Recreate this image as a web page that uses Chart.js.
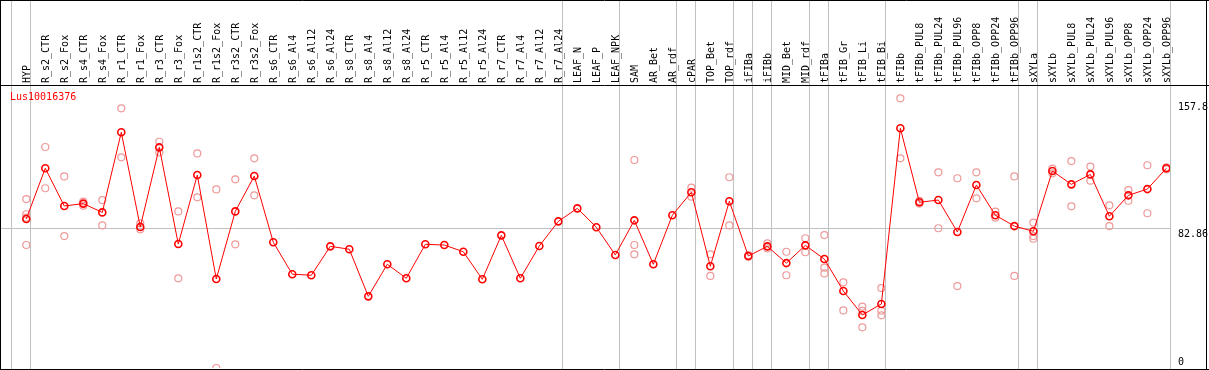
<!DOCTYPE html>
<html>
<head>
<meta charset="utf-8">
<title>Lus10016376</title>
<script src="https://cdn.jsdelivr.net/npm/chart.js@4.4.1/dist/chart.umd.min.js"></script>
<style>
  html, body { margin: 0; padding: 0; background: #fff; }
  #wrap { width: 1209px; height: 370px; }
</style>
</head>
<body>
<div id="wrap"><canvas id="chart"></canvas></div>
<script>
const geneName = 'Lus10016376';

const categories = [
    'HYP', 'R_s2_CTR', 'R_s2_Fox', 'R_s4_CTR', 'R_s4_Fox', 'R_r1_CTR', 'R_r1_Fox', 'R_r3_CTR', 'R_r3_Fox',
    'R_r1s2_CTR', 'R_r1s2_Fox', 'R_r3s2_CTR', 'R_r3s2_Fox', 'R_s6_CTR', 'R_s6_Al4', 'R_s6_Al12', 'R_s6_Al24',
    'R_s8_CTR', 'R_s8_Al4', 'R_s8_Al12', 'R_s8_Al24', 'R_r5_CTR', 'R_r5_Al4', 'R_r5_Al12', 'R_r5_Al24',
    'R_r7_CTR', 'R_r7_Al4', 'R_r7_Al12', 'R_r7_Al24', 'LEAF_N', 'LEAF_P', 'LEAF_NPK', 'SAM', 'AR_Bet', 'AR_rdf',
    'cPAR', 'TOP_Bet', 'TOP_rdf', 'iFIBa', 'iFIBb', 'MID_Bet', 'MID_rdf', 'tFIBa', 'tFIB_Gr', 'tFIB_Li', 'tFIB_Bi',
    'tFIBb', 'tFIBb_PUL8', 'tFIBb_PUL24', 'tFIBb_PUL96', 'tFIBb_OPP8', 'tFIBb_OPP24', 'tFIBb_OPP96',
    'sXYLa', 'sXYLb', 'sXYLb_PUL8', 'sXYLb_PUL24', 'sXYLb_PUL96', 'sXYLb_OPP8', 'sXYLb_OPP24', 'sXYLb_OPP96'
];

// average expression per sample (red line)
const meanValues = [
    88.2, 118.2, 95.9, 97.3, 92.1, 139.5, 83.5, 130.6, 73.4,
    114.2, 52.7, 92.7, 113.6, 74.4, 55.5, 54.9, 72.0,
    70.3, 42.4, 61.4, 53.1, 73.2, 72.8, 68.8, 52.5,
    78.5, 53.1, 72.2, 86.8, 94.5, 83.3, 66.9, 87.4, 61.4, 90.4,
    104.0, 60.2, 98.7, 66.3, 72.0, 62.1, 72.6, 64.5, 45.6, 31.4, 37.9,
    141.9, 98.1, 99.4, 80.5, 108.3, 90.4, 84.0,
    80.9, 116.6, 108.7, 114.6, 89.8, 102.2, 105.9, 118.2
];

// single replicates (pink circles), one list per sample
const replicateValues = [
    [100.0, 91.0, 89.0, 72.8], [130.8, 106.4], [113.4, 78.1], [98.5, 96.1], [99.4, 84.4],
    [153.7, 124.7], [85.6, 82.1], [133.9, 127.6], [92.7, 53.1],
    [127.0, 101.0], [105.7, 0], [111.7, 73.2], [124.1, 102.2], [], [], [], [],
    [], [], [], [], [], [], [], [],
    [], [], [], [], [], [], [], [123.1, 72.8, 67.3], [], [],
    [106.7, 101.4], [67.3, 54.5], [112.9, 84.4], [66.8, 65.8], [73.8, 70.8], [68.8, 54.9], [76.8, 68.5],
    [78.7, 59.4, 56.0], [50.7, 34.1], [36.3, 33.8, 24.1], [47.3, 33.9, 31.2],
    [159.6, 124.1], [98.9, 97.3], [115.8, 82.7], [112.3, 48.5], [115.8, 100.4], [92.5, 89.0], [113.4, 54.5],
    [86.0, 78.1, 76.5], [118.0, 115.2], [122.5, 95.7], [119.2, 110.9], [96.3, 84.0], [105.3, 99.0],
    [120.0, 91.6], [118.8, 117.6]
];

const yTicks = [0, 82.86, 157.8];
const yGridLines = [82.86];

// last sample index of each tissue group (-1 = left edge)
const groupEnds = [-1, 0, 28, 31, 34, 35, 37, 38, 39, 41, 42, 45, 52, 53, 60];

const RED = '#ff0000';
const PINK = '#ee9a9a';
const GRID = '#c0c0c0';
const FONT = 'DejaVu Sans Mono';

const meanPoints = meanValues.map((v, i) => ({ x: i, y: v }));
const replicatePoints = [];
replicateValues.forEach((reps, i) => {
    reps.forEach(v => replicatePoints.push({ x: i, y: v }));
});

const framePlugin = {
    id: 'frame',
    beforeDatasetsDraw(chart) {
        const ctx = chart.ctx;
        const xScale = chart.scales.x;
        ctx.save();
        ctx.strokeStyle = GRID;
        ctx.lineWidth = 1;
        groupEnds.forEach(i => {
            const px = Math.round(xScale.getPixelForValue(i) + 4) + 0.5;
            ctx.beginPath();
            ctx.moveTo(px, 0);
            ctx.lineTo(px, chart.height);
            ctx.stroke();
        });
        ctx.restore();
    },
    afterDraw(chart) {
        const ctx = chart.ctx;
        const yScale = chart.scales.y;
        const area = chart.chartArea;
        const w = chart.width;
        ctx.save();
        ctx.strokeStyle = '#000';
        ctx.lineWidth = 1;
        ctx.beginPath();
        ctx.moveTo(0.5, 0); ctx.lineTo(0.5, chart.height);
        ctx.moveTo(w - 2.5, 0); ctx.lineTo(w - 2.5, chart.height);
        ctx.moveTo(0, 0.5); ctx.lineTo(w, 0.5);
        ctx.moveTo(0, area.top + 0.5); ctx.lineTo(w, area.top + 0.5);
        ctx.moveTo(0, chart.height - 0.5); ctx.lineTo(w, chart.height - 0.5);
        ctx.stroke();

        ctx.font = '10px "' + FONT + '"';
        ctx.textBaseline = 'top';
        ctx.textAlign = 'left';
        ctx.fillStyle = '#000';
        yTicks.forEach(v => {
            const py = Math.min(yScale.getPixelForValue(v) + 1, chart.height - 13);
            ctx.fillText(String(v), area.right + 8, py);
        });

        ctx.fillStyle = RED;
        ctx.textBaseline = 'middle';
        ctx.fillText(geneName, 10, area.top + 12);
        ctx.restore();
    }
};

new Chart(document.getElementById('chart'), {
    type: 'line',
    data: {
        datasets: [{
            label: geneName,
            data: meanPoints,
            borderColor: RED,
            borderWidth: 1,
            tension: 0,
            pointRadius: 3.5,
            pointBorderWidth: 1.6,
            pointBorderColor: RED,
            pointBackgroundColor: 'rgba(0,0,0,0)',
            order: 0
        }, {
            type: 'scatter',
            label: 'replicates',
            data: replicatePoints,
            showLine: false,
            pointRadius: 3.5,
            pointBorderWidth: 1.2,
            pointBorderColor: PINK,
            pointBackgroundColor: 'rgba(0,0,0,0)',
            order: 1
        }]
    },
    options: {
        responsive: true,
        maintainAspectRatio: false,
        devicePixelRatio: 1,
        animation: false,
        layout: {
            autoPadding: false,
            padding: { left: 1, right: 0, top: 0, bottom: 2 }
        },
        plugins: {
            legend: { display: false },
            tooltip: { enabled: false },
            title: { display: false }
        },
        scales: {
            x: {
                type: 'linear',
                position: 'top',
                min: -1.33,
                max: 60.19,
                afterBuildTicks: s => { s.ticks = categories.map((c, i) => ({ value: i })); },
                afterFit: s => {
                    s.height = 85;
                    s.paddingLeft = 0;
                    s.paddingRight = 0;
                },
                grid: { display: false, drawTicks: false },
                border: { display: false },
                ticks: {
                    autoSkip: false,
                    minRotation: 90,
                    maxRotation: 90,
                    padding: 2,
                    labelOffset: 13,
                    color: '#000',
                    font: { family: FONT, size: 10 },
                    callback: v => categories[v]
                }
            },
            y: {
                type: 'linear',
                position: 'right',
                min: 0,
                max: 167.5,
                afterBuildTicks: s => { s.ticks = yTicks.map(v => ({ value: v })); },
                afterFit: s => { s.width = 39; },
                grid: {
                    drawTicks: false,
                    color: c => (c.tick && yGridLines.includes(c.tick.value)) ? GRID : 'rgba(0,0,0,0)'
                },
                border: { display: false },
                ticks: { display: false }
            }
        }
    },
    plugins: [framePlugin]
});
</script>
</body>
</html>
